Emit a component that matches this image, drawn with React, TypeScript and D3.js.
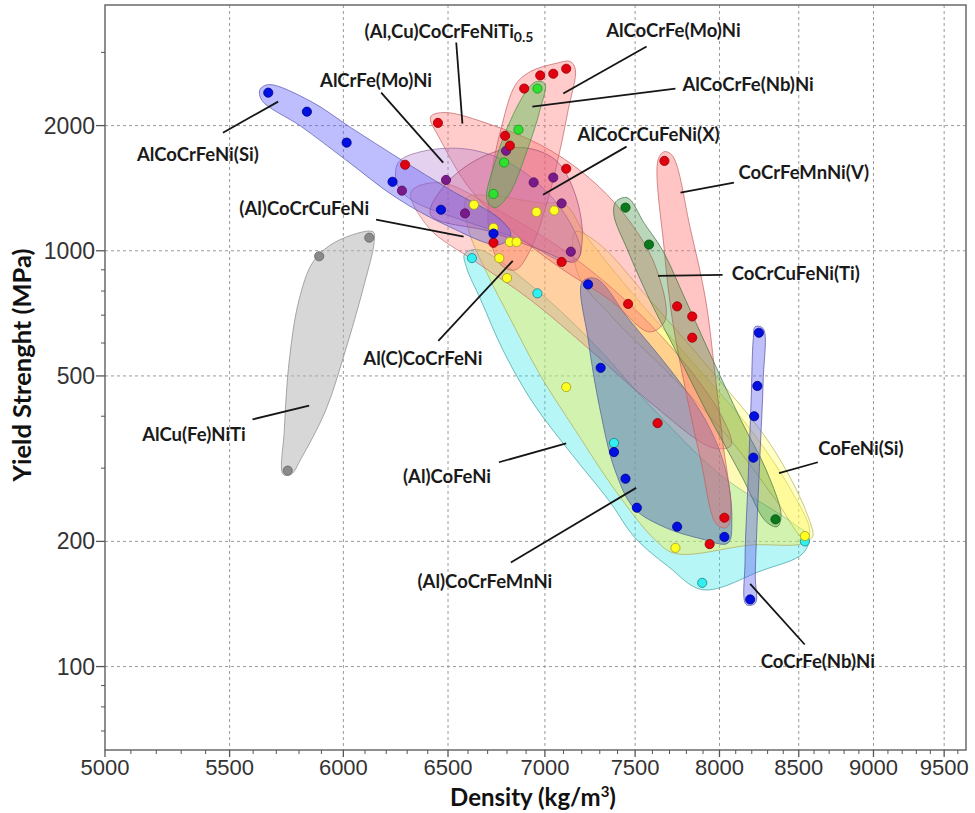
import React from 'react';
import * as d3 from 'd3';

type P = [number, number];

// ---- axis ticks ----
const xMajorTicks = [5000, 5500, 6000, 6500, 7000, 7500, 8000, 8500, 9000, 9500];
const yMajorTicks = [100, 200, 500, 1000, 2000];
const yMinorTicks = [70, 80, 90, 300, 400, 600, 700, 800, 900, 3000];

// ---- region outlines (density kg/m3, yield strength MPa) ----
const outlineAlCuFeNiTi: P[] = [[5730,290],[5735,370],[5757,546],[5800,762],[5863,941],[5965,1051],[6138,1111],[6143,1051],[6090,806],[6010,577],[5920,414],[5810,317],[5765,290]];
const outlineCoFeNiAl: P[] = [[6583,983],[6655,1006],[6923,828],[7247,610],[7584,425],[8006,289],[8449,223],[8565,205],[8526,187],[8260,170],[7898,153],[7693,174],[7495,205],[7357,249],[7148,323],[6933,433],[6779,577],[6665,762],[6593,910]];
const outlineAlC: P[] = [[6593,1341],[6716,1356],[6974,1304],[7110,1290],[7220,1092],[7467,806],[7825,546],[8196,370],[8449,266],[8571,213],[8539,199],[8196,196],[7735,187],[7614,202],[7385,266],[7165,370],[6974,503],[6820,682],[6701,875],[6603,1123]];
const outlineCoFeNiSi: P[] = [[7165,1111],[7302,1034],[7584,762],[7946,517],[8323,340],[8546,237],[8590,205],[8539,202],[8354,251],[8070,350],[7735,489],[7385,682],[7181,875]];
const outlineAlCu: P[] = [[6319,1386],[6462,1458],[6768,1241],[7082,1017],[7412,783],[7765,552],[8019,396],[8070,340],[7958,336],[7584,433],[7247,577],[6923,762],[6639,941],[6405,1136]];
const outlineMn: P[] = [[7203,842],[7280,857],[7467,682],[7705,517],[7916,391],[8038,297],[8076,225],[8051,198],[7886,203],[7675,216],[7495,240],[7385,297],[7302,414],[7236,610]];
const outlineTi05: P[] = [[6414,2100],[6486,2150],[6716,2011],[6974,1800],[7220,1524],[7440,1221],[7614,925],[7675,682],[7584,638],[7357,762],[7082,910],[6820,1123],[6613,1402],[6462,1850]];
const outlineMo: P[] = [[6845,2510],[6923,2698],[7055,2820],[7137,2851],[7165,2728],[7126,2185],[7082,1751],[7016,1326],[6923,1006],[6845,900],[6768,925],[6706,1123],[6716,1482],[6768,1956]];
const outlineCrMo: P[] = [[6257,1629],[6367,1731],[6613,1751],[6871,1567],[7110,1221],[7192,978],[7110,941],[6871,1063],[6562,1188],[6319,1326],[6252,1441]];
const outlineX: P[] = [[6414,1221],[6486,1441],[6665,1675],[6871,1771],[7055,1656],[7165,1363],[7203,1063],[7165,941],[6974,1006],[6716,1111]];
const outlineSi: P[] = [[5629,2440],[5668,2510],[5854,2285],[6033,1980],[6271,1656],[6510,1402],[6768,1188],[6820,1092],[6758,1034],[6486,1155],[6248,1341],[6010,1656],[5810,1989],[5638,2297]];
const outlineNbAl: P[] = [[6954,2552],[7000,2524],[6974,2185],[6907,1751],[6809,1363],[6737,1269],[6696,1326],[6742,1656],[6820,2067],[6907,2442]];
const outlineV: P[] = [[7633,1656],[7669,1731],[7717,1693],[7825,1123],[7916,762],[7970,517],[8019,350],[8070,237],[8044,216],[7982,220],[7886,314],[7795,463],[7717,682],[7669,1006]];
const outlineTi: P[] = [[7390,1312],[7456,1341],[7554,1162],[7657,1006],[7795,762],[7946,561],[8133,391],[8291,297],[8386,231],[8361,217],[8291,223],[8133,289],[7916,414],[7735,577],[7584,762],[7456,1006],[7379,1221]];
const outlineNbNi: P[] = [[8222,657],[8272,650],[8272,489],[8253,332],[8234,225],[8222,165],[8222,142],[8165,141],[8158,180],[8177,281],[8196,437],[8209,610]];

// ---- data points ----
const greyPts: P[] = [[5750,296],[5890,970],[6120,1075]];
const bluePts: P[] = [[5665,2400],[5835,2160],[6015,1820],[6230,1465],[6465,1255],[6730,1100],[7235,830],[7305,523],[7380,328],[7445,283],[7510,241],[7745,217],[8030,205],[8245,635],[8235,473],[8215,400],[8210,318],[8190,145]];
const redPts: P[] = [[6450,2030],[6790,1890],[6815,1790],[6890,2455],[6975,2640],[7045,2665],[7115,2740],[7115,1575],[6290,1610],[6730,1045],[7090,940],[7670,1645],[7460,745],[7745,735],[7835,695],[7835,618],[7630,385],[8030,228],[7940,197]];
const purplePts: P[] = [[6795,1740],[6490,1480],[6275,1395],[6940,1460],[7045,1500],[6585,1230],[7090,1300],[7140,995]];
const greenPts: P[] = [[6785,1630],[6860,1955],[6960,2455],[6730,1370]];
const darkGreenPts: P[] = [[7445,1270],[7580,1035],[8350,226]];
const yellowPts: P[] = [[6630,1290],[6955,1240],[7050,1250],[6730,1135],[6815,1050],[6850,1050],[6760,960],[6800,860],[7115,470],[8540,206],[7735,193]];
const cyanPts: P[] = [[6620,960],[6960,790],[7380,345],[8540,200],[7895,159]];

// ---- labels ----
const labelNames = ['AlCoCrFeNi(Si)','AlCrFe(Mo)Ni','(Al,Cu)CoCrFeNiTi','AlCoCrFe(Mo)Ni','AlCoCrFe(Nb)Ni','AlCoCrCuFeNi(X)','CoCrFeMnNi(V)','CoCrCuFeNi(Ti)','(Al)CoCrCuFeNi','Al(C)CoCrFeNi','AlCu(Fe)NiTi','(Al)CoFeNi','(Al)CoCrFeMnNi','CoFeNi(Si)','CoCrFe(Nb)Ni'];
const labelSubs = ['', '', '0.5', '', '', '', '', '', '', '', '', '', '', '', ''];
const labelAnchors: P[] = [[5368,1712],[6152,2580],[6505,3386],[7723,3400],[8177,2524],[7578,1913],[8533,1549],[8481,885],[5823,1269],[6376,552],[5352,362],[6495,287],[6686,161],[8914,336],[8625,103]];
const leaderLines: [P, P][] = [
  [[5472,1923],[5708,2284]],
  [[6176,2401],[6476,1629]],
  [[6541,3169],[6572,2022]],
  [[7566,3100],[7099,2388]],
  [[7735,2455],[6933,2222]],
  [[7451,1780],[6990,1363]],
  [[8089,1458],[7765,1379]],
  [[8019,875],[7633,870]],
  [[6152,1188],[6578,1081]],
  [[6452,607],[6830,946]],
  [[5597,393],[5845,424]],
  [[6758,310],[7115,344]],
  [[6820,178],[7506,269]],
  [[8625,310],[8373,292]],
  [[8539,113],[8190,158]],
];

const regions = [
  { o: outlineAlCuFeNiTi, fill: '#b0b0b0', op: 0.5, stroke: '#888888' },
  { o: outlineCoFeNiAl, fill: '#30e6e6', op: 0.35, stroke: '#3aa0a0' },
  { o: outlineAlC, fill: '#fff040', op: 0.38, stroke: '#b0a850' },
  { o: outlineCoFeNiSi, fill: '#ffff70', op: 0.4, stroke: '#b0b060' },
  { o: outlineAlCu, fill: '#ff7070', op: 0.3, stroke: '#c07070' },
  { o: outlineMn, fill: '#2f55c8', op: 0.42, stroke: '#506090' },
  { o: outlineTi05, fill: '#ff6b6b', op: 0.35, stroke: '#c06060' },
  { o: outlineMo, fill: '#ff6b6b', op: 0.35, stroke: '#c06060' },
  { o: outlineCrMo, fill: '#b07ad0', op: 0.35, stroke: '#906aa0' },
  { o: outlineX, fill: '#d05080', op: 0.3, stroke: '#a05070' },
  { o: outlineSi, fill: '#5555ff', op: 0.38, stroke: '#5555aa' },
  { o: outlineNbAl, fill: '#40c040', op: 0.4, stroke: '#409040' },
  { o: outlineV, fill: '#ff6b6b', op: 0.4, stroke: '#c06060' },
  { o: outlineTi, fill: '#3c8c3c', op: 0.35, stroke: '#407040' },
  { o: outlineNbNi, fill: '#6060f0', op: 0.4, stroke: '#5050a0' },
];

const dotSets = [
  { pts: greyPts, fill: '#8a8a8a', stroke: '#666' },
  { pts: cyanPts, fill: '#30f0f0', stroke: '#208080' },
  { pts: yellowPts, fill: '#ffff20', stroke: '#a09a20' },
  { pts: purplePts, fill: '#7a1a8a', stroke: '#50105a' },
  { pts: redPts, fill: '#e00010', stroke: '#900' },
  { pts: greenPts, fill: '#30e030', stroke: '#1a901a' },
  { pts: darkGreenPts, fill: '#0a7a1a', stroke: '#064a10' },
  { pts: bluePts, fill: '#0010e0', stroke: '#00008a' },
];

export default function App() {
  const W = 975, H = 813;
  const L = 105, R = 966, T = 5, B = 750;
  const x = d3.scaleLog().domain([5000, 9660]).range([L, R]);
  const y = d3.scaleLog().domain([63, 3900]).range([B, T]);
  const line = d3.line<P>().x(d => x(d[0])).y(d => y(d[1])).curve(d3.curveCatmullRomClosed.alpha(0.5));
  const xMinor = d3.range(5000, 9700, 100).filter(v => v % 500 !== 0 && v < 9660);
  const tickFont = "'Liberation Sans', Arial, sans-serif";
  const boldFont = "Lato, 'Open Sans', sans-serif";

  return (
    <svg width={W} height={H} style={{ position: 'absolute', left: 0, top: 0, background: '#fff' }}>
      <rect x={0} y={0} width={W} height={H} fill="#fff" />
      {/* grid */}
      {xMajorTicks.filter(v => v > 5000).map(v => (
        <line key={'gx' + v} x1={x(v)} x2={x(v)} y1={T} y2={B} stroke="#9a9a9a" strokeDasharray="3,3" strokeWidth={1} />
      ))}
      {yMajorTicks.map(v => (
        <line key={'gy' + v} x1={L} x2={R} y1={y(v)} y2={y(v)} stroke="#9a9a9a" strokeDasharray="3,3" strokeWidth={1} />
      ))}
      {/* regions */}
      {regions.map((r, i) => (
        <path key={'r' + i} d={line(r.o) || ''} fill={r.fill} fillOpacity={r.op} stroke={r.stroke} strokeOpacity={0.7} strokeWidth={1} />
      ))}
      {/* dots */}
      {dotSets.map((s, i) => s.pts.map((p, j) => (
        <circle key={'d' + i + '-' + j} cx={x(p[0])} cy={y(p[1])} r={4.6} fill={s.fill} stroke={s.stroke} strokeWidth={0.8} />
      )))}
      {/* leaders */}
      {leaderLines.map((l, i) => (
        <line key={'l' + i} x1={x(l[0][0])} y1={y(l[0][1])} x2={x(l[1][0])} y2={y(l[1][1])} stroke="#151515" strokeWidth={1.8} />
      ))}
      {/* labels */}
      {labelNames.map((n, i) => (
        <text key={'t' + i} x={x(labelAnchors[i][0])} y={y(labelAnchors[i][1])} textAnchor="middle" dominantBaseline="central"
          fontFamily={boldFont} fontWeight={700} fontSize={18.5} fill="#1a1a1a">
          {n}
          {labelSubs[i] ? <tspan fontSize={14} dy={5}>{labelSubs[i]}</tspan> : null}
        </text>
      ))}
      {/* frame */}
      <rect x={L} y={T} width={R - L} height={B - T} fill="none" stroke="#6a6a6a" strokeWidth={1.5} />
      {/* x ticks */}
      {xMajorTicks.map(v => (
        <g key={'xt' + v}>
          <line x1={x(v)} x2={x(v)} y1={B} y2={B + 7} stroke="#555" strokeWidth={1.3} />
          <text x={x(v)} y={B + 25} textAnchor="middle" fontFamily={tickFont} fontSize={22} fill="#333">{v}</text>
        </g>
      ))}
      {xMinor.map(v => (
        <line key={'xm' + v} x1={x(v)} x2={x(v)} y1={B} y2={B + 4} stroke="#555" strokeWidth={1} />
      ))}
      {/* y ticks */}
      {yMajorTicks.map(v => (
        <g key={'yt' + v}>
          <line x1={L - 9} x2={L} y1={y(v)} y2={y(v)} stroke="#555" strokeWidth={1.3} />
          <text x={L - 10} y={y(v)} textAnchor="end" dominantBaseline="central" fontFamily={tickFont} fontSize={23} fill="#333">{v}</text>
        </g>
      ))}
      {yMinorTicks.map(v => (
        <line key={'ym' + v} x1={L - 4} x2={L} y1={y(v)} y2={y(v)} stroke="#555" strokeWidth={1} />
      ))}
      {/* axis titles */}
      <text x={533} y={806} textAnchor="middle" fontFamily={boldFont} fontWeight={700} fontSize={24} fill="#111">
        Density (kg/m<tspan fontSize={15} dy={-9}>3</tspan><tspan dy={9}>)</tspan>
      </text>
      <text transform="translate(31,365) rotate(-90)" textAnchor="middle" fontFamily={boldFont} fontWeight={700} fontSize={25.5} fill="#111">
        Yield Strenght (MPa)
      </text>
    </svg>
  );
}
